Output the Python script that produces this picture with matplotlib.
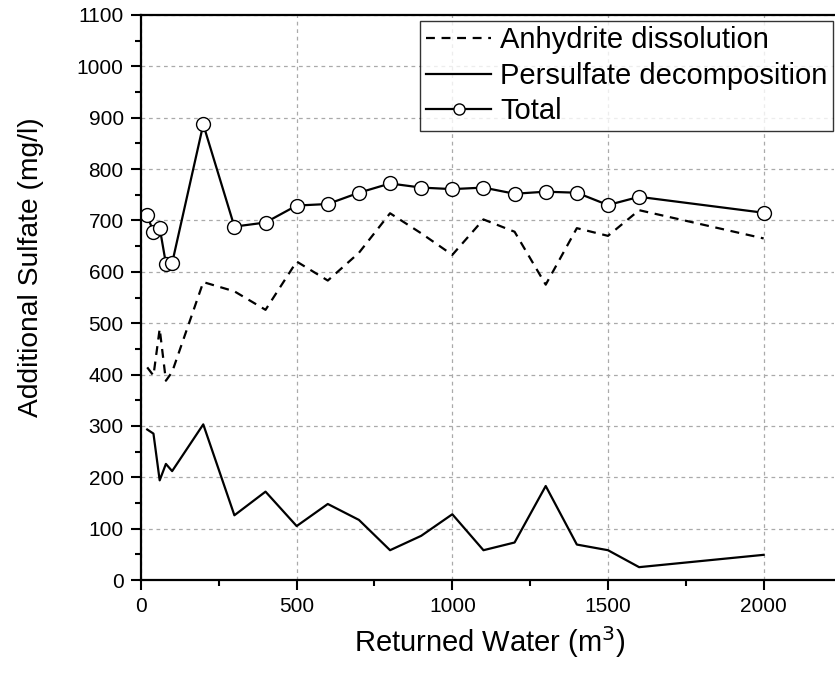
import matplotlib
matplotlib.use("Agg")
import matplotlib.pyplot as plt
from matplotlib.ticker import MultipleLocator

plt.rcParams['font.family'] = ['Liberation Sans', 'DejaVu Sans']

returned_water = [20, 40, 60, 80, 100, 200, 300, 400, 500, 600, 700, 800, 900,
                  1000, 1100, 1200, 1300, 1400, 1500, 1600, 2000]
anhydrite = [414, 398, 489, 388, 405, 580, 562, 526, 620, 583, 637, 714, 675,
             633, 702, 678, 575, 685, 670, 720, 665]
persulfate = [293, 285, 194, 226, 212, 303, 126, 172, 105, 148, 117, 58, 86,
              128, 58, 73, 183, 69, 58, 25, 49]
total = [710, 677, 686, 616, 617, 887, 688, 696, 729, 732, 754, 772, 764,
         761, 764, 752, 756, 754, 730, 746, 715]

fig = plt.figure(figsize=(8.35, 6.74), dpi=100)
ax = fig.add_axes([141/835, 1-580/674, (834-141)/835, (580-15)/674])

ax.plot(returned_water, anhydrite, color='black', lw=1.6, ls=(0, (4, 3)),
        label='Anhydrite dissolution')
ax.plot(returned_water, persulfate, color='black', lw=1.6, ls='-',
        label='Persulfate decomposition')
ax.plot(returned_water, total, color='black', lw=1.6, ls='-', marker='o',
        ms=10, mfc='white', mec='black', mew=1.0, label='Total')

ax.set_xlim(0, 2226)
ax.set_ylim(0, 1100)
ax.xaxis.set_major_locator(MultipleLocator(500))
ax.xaxis.set_minor_locator(MultipleLocator(250))
ax.yaxis.set_major_locator(MultipleLocator(100))
ax.yaxis.set_minor_locator(MultipleLocator(50))
ax.tick_params(which='major', direction='out', length=7.5, width=1.5,
               labelsize=15, pad=5)
ax.tick_params(which='minor', direction='out', length=4, width=1.5)
ax.tick_params(axis='x', which='both', bottom=True, top=False)
ax.tick_params(axis='y', which='both', left=True, right=False)
for s in ax.spines.values():
    s.set_linewidth(1.6)
ax.spines['right'].set_visible(False)

ax.grid(True, which='major', color='#aaaaaa', ls=(0, (3, 3)), lw=0.9)
ax.set_axisbelow(True)

ax.set_xlabel('Returned Water (m$^3$)', fontsize=21)
ax.set_ylabel('Additional Sulfate (mg/l)', fontsize=20.3)
ax.xaxis.set_label_coords(0.503, (580 - 624) / 565)
ax.yaxis.set_label_coords((44 - 141) / 693, (580 - 267) / 565)

leg = ax.legend(loc='upper right', bbox_to_anchor=(0.999, 0.99), borderaxespad=0,
                fontsize=21, frameon=True, fancybox=False, edgecolor='black',
                handlelength=2.25, handletextpad=0.3, labelspacing=0.25,
                borderpad=0.2, markerscale=0.8)
leg.get_frame().set_linewidth(1.0)

fig.savefig('out.png', dpi=100)
